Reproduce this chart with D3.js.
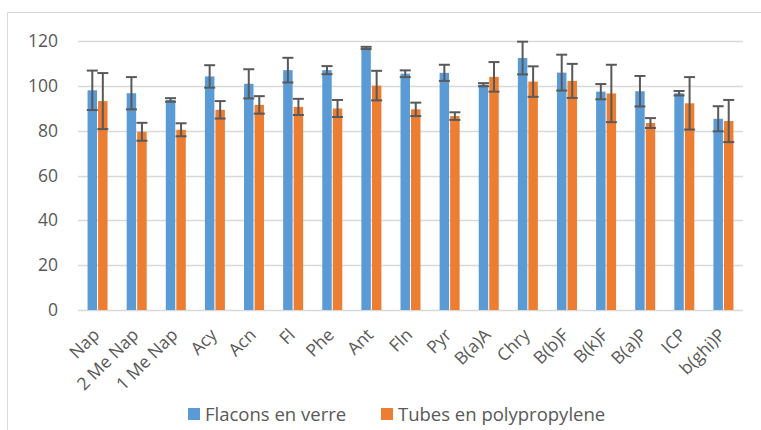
<!DOCTYPE html>
<html>
<head>
<meta charset="utf-8">
<script src="https://cdn.jsdelivr.net/npm/d3@7"></script>
<style>
  body { margin: 0; background: #fff; }
  text { font-family: "Open Sans", "Noto Sans", sans-serif; fill: #595959; }
</style>
</head>
<body>
<div id="chart"></div>
<script>
var categories = ["Nap", "2 Me Nap", "1 Me Nap", "Acy", "Acn", "Fl", "Phe", "Ant", "Fln", "Pyr",
                  "B(a)A", "Chry", "B(b)F", "B(k)F", "B(a)P", "ICP", "b(ghi)P"];
var seriesNames = ["Flacons en verre", "Tubes en polypropylene"];
var verre = [98, 96.7, 93.7, 104.2, 100.9, 107, 107, 116.9, 105.4, 105.8, 100.5, 112.4, 105.9, 97.4, 97.6, 96.7, 85.3];
var verreErr = [8.8, 7.2, 0.8, 5, 6.5, 5.5, 1.8, 0.5, 1.5, 3.6, 0.7, 7.3, 8, 3.4, 6.8, 1, 5.6];
var tubes = [93.2, 79.5, 80.4, 89.3, 91.5, 90.6, 89.9, 100.1, 89.5, 86.5, 104, 101.9, 102.2, 96.6, 83.4, 92.2, 84.3];
var tubesErr = [12.5, 4, 2.9, 3.9, 3.9, 3.6, 3.8, 6.6, 3, 1.7, 6.6, 6.8, 7.6, 12.8, 2.2, 11.7, 9.4];
var yTicks = [0, 20, 40, 60, 80, 100, 120];
var colors = ["#5b9bd5", "#ed7d31"];

var W = 761, H = 430;
var plot = { left: 78, right: 743, top: 41, bottom: 310 };

var svg = d3.select("#chart").append("svg")
  .attr("width", W).attr("height", H);

// chart frame (only top and left edges are visible)
svg.append("line").attr("x1", 7.5).attr("x2", W).attr("y1", 12.5).attr("y2", 12.5)
  .attr("stroke", "#d9d9d9");
svg.append("line").attr("x1", 7.5).attr("x2", 7.5).attr("y1", 12.5).attr("y2", H)
  .attr("stroke", "#d9d9d9");

var y = d3.scaleLinear().domain([0, 120]).range([plot.bottom, plot.top]);
var x0 = d3.scaleBand().domain(categories).range([plot.left, plot.right]);
var x1 = d3.scaleBand().domain([0, 1])
  .range([x0.bandwidth() / 2 - 10, x0.bandwidth() / 2 + 10]).paddingInner(0.1);

// gridlines
svg.append("g").selectAll("line").data(yTicks).enter().append("line")
  .attr("x1", plot.left).attr("x2", plot.right)
  .attr("y1", function(d) { return Math.round(y(d)) + 0.5; })
  .attr("y2", function(d) { return Math.round(y(d)) + 0.5; })
  .attr("stroke", "#d9d9d9").attr("stroke-width", 1.3);

// y axis labels
var yAxis = svg.append("g").attr("transform", "translate(" + (plot.left - 20) + ",0)")
  .call(d3.axisLeft(y).tickValues(yTicks).tickSize(0).tickPadding(0));
yAxis.select(".domain").remove();
yAxis.selectAll("text").style("font-size", "17.5px").attr("fill", "#595959")
  .style("font-family", "\"Open Sans\", sans-serif");

// bars
var series = [verre, tubes];
var errs = [verreErr, tubesErr];
series.forEach(function(vals, s) {
  var g = svg.append("g");
  g.selectAll("rect").data(vals).enter().append("rect")
    .attr("x", function(d, i) { return x0(categories[i]) + x1(s); })
    .attr("width", x1.bandwidth())
    .attr("y", function(d) { return y(d); })
    .attr("height", function(d) { return y(0) - y(d); })
    .attr("fill", colors[s]);
});

// error bars
series.forEach(function(vals, s) {
  var g = svg.append("g").attr("stroke", "#595959").attr("stroke-width", 2);
  vals.forEach(function(v, i) {
    var cx = x0(categories[i]) + x1(s) + x1.bandwidth() / 2;
    var e = errs[s][i];
    g.append("line").attr("x1", cx).attr("x2", cx).attr("y1", y(v + e)).attr("y2", y(v - e));
    g.append("line").attr("x1", cx - 5.5).attr("x2", cx + 5.5).attr("y1", y(v + e)).attr("y2", y(v + e));
    g.append("line").attr("x1", cx - 5.5).attr("x2", cx + 5.5).attr("y1", y(v - e)).attr("y2", y(v - e));
  });
});

// x axis labels, rotated
svg.append("g").selectAll("text").data(categories).enter().append("text")
  .attr("transform", function(d) {
    var cx = x0(d) + x0.bandwidth() / 2 + 3;
    return "translate(" + cx + "," + (plot.bottom + 26) + ") rotate(-45)";
  })
  .attr("text-anchor", "end")
  .style("font-size", "17.5px")
  .text(function(d) { return d; });

// legend
var legendX = [188, 381];
seriesNames.forEach(function(name, s) {
  svg.append("rect").attr("x", legendX[s]).attr("y", 408).attr("width", 12).attr("height", 12)
    .attr("fill", colors[s]);
  svg.append("text").attr("x", legendX[s] + 17).attr("y", 421)
    .style("font-size", "18.5px").text(name);
});
</script>
</body>
</html>
